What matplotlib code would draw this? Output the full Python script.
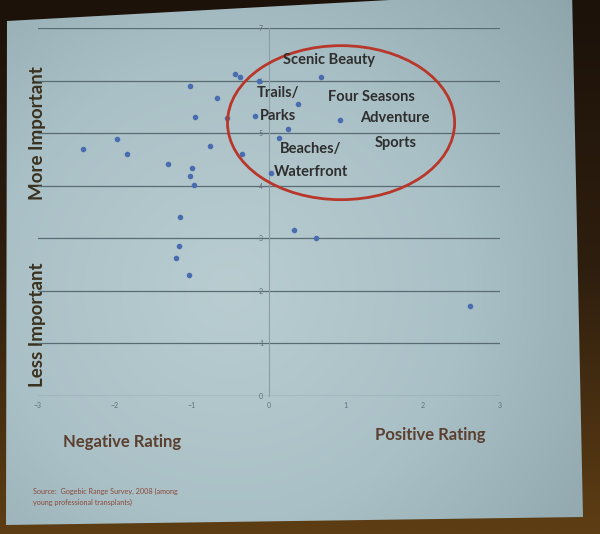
import numpy as np
import matplotlib
matplotlib.use('Agg')
import matplotlib.pyplot as plt
import matplotlib.patches as patches
from matplotlib.colors import LinearSegmentedColormap

plt.rcParams['font.family'] = ['Lato', 'DejaVu Sans']

# Dados: avaliação (x) vs importância (y)
rating = [-2.41, -1.97, -1.84, -1.31, -1.02, -0.96, -1.00, -1.02, -0.97, -0.76,
          -0.67, -0.54, -0.44, -0.37, -0.12, -0.18, -0.35, 0.03, 0.14, 0.25,
          0.38, 0.68, 0.93, -1.15, 0.33, 0.61, -1.17, -1.21, -1.03, 2.62]
importance = [4.69, 4.89, 4.60, 4.42, 5.89, 5.30, 4.33, 4.18, 4.01, 4.75,
              5.67, 5.28, 6.12, 6.06, 5.99, 5.32, 4.61, 4.24, 4.90, 5.07,
              5.55, 6.06, 5.26, 3.40, 3.15, 3.01, 2.86, 2.63, 2.31, 1.72]
x_ticks = [-3, -2, -1, 0, 1, 2, 3]
y_ticks = [0, 1, 2, 3, 4, 5, 6, 7]

# Rótulos dentro da elipse (texto, x, y)
rotulos = [('Scenic Beauty', 0.78, 6.40),
           ('Trails/', 0.12, 5.77),
           ('Parks', 0.12, 5.32),
           ('Four Seasons', 1.34, 5.69),
           ('Adventure', 1.64, 5.28),
           ('Sports', 1.65, 4.81),
           ('Beaches/', 0.54, 4.70),
           ('Waterfront', 0.55, 4.27)]

fig = plt.figure(figsize=(6.0, 5.34), dpi=100)

# Fundo: moldura escura + slide projetado
bg = fig.add_axes([0, 0, 1, 1], zorder=0)
bg.set_xlim(0, 600)
bg.set_ylim(534, 0)
bg.axis('off')

cmap_moldura = LinearSegmentedColormap.from_list('m', ['#1c120a', '#2e1e0e', '#5e3e14'])
bg.imshow(np.linspace(0, 1, 256)[:, None], extent=(0, 600, 534, 0),
          aspect='auto', cmap=cmap_moldura, zorder=0)

slide = patches.Polygon([(7, 21), (572, -10), (583, 517), (6, 525)],
                        closed=True, facecolor='none', edgecolor='none')
bg.add_patch(slide)
gx, gy = np.meshgrid(np.linspace(0, 600, 300), np.linspace(0, 534, 300))
dist = np.sqrt(((gx - 230) / 430) ** 2 + ((gy - 290) / 420) ** 2)
cmap_slide = LinearSegmentedColormap.from_list('s', ['#b9cdd1', '#a9c0c6', '#8ca3aa'])
im = bg.imshow(dist, extent=(0, 600, 534, 0), aspect='auto', cmap=cmap_slide,
               vmin=0.0, vmax=1.1, zorder=1)
im.set_clip_path(slide)

# Títulos dos eixos e fonte
bg.text(37, 133, 'More Important', rotation=90, ha='center', va='center',
        fontsize=13.5, fontweight='bold', color='#3b3220', zorder=3)
bg.text(37, 325, 'Less Important', rotation=90, ha='center', va='center',
        fontsize=13.5, fontweight='bold', color='#3b3220', zorder=3)
bg.text(122, 442, 'Negative Rating', ha='center', va='center',
        fontsize=12, fontweight='bold', color='#5b4030', zorder=3)
bg.text(430, 435, 'Positive Rating', ha='center', va='center',
        fontsize=12, fontweight='bold', color='#5b4030', zorder=3)
bg.text(33, 497, 'Source:  Gogebic Range Survey, 2008 (among\nyoung professional transplants)',
        ha='left', va='center', fontsize=5.2, color='#8b4a3c',
        linespacing=1.6, zorder=3)

# Gráfico de dispersão
ax = fig.add_axes([0.0628, 0.2584, 0.77, 0.6891], zorder=1)
ax.set_facecolor('none')
ax.set_xlim(-3, 3)
ax.set_ylim(0, 7)
ax.set_xticks(x_ticks)
ax.set_yticks(y_ticks)
ax.yaxis.grid(True, color='#5a6c73', linewidth=0.9)
ax.set_axisbelow(True)
for lado in ['top', 'right', 'bottom']:
    ax.spines[lado].set_visible(False)
ax.spines['left'].set_position(('data', 0))
ax.spines['left'].set_color('#8a9da4')
ax.spines['left'].set_linewidth(0.8)
ax.tick_params(length=0, labelsize=5, labelcolor='#5f7078', pad=4)

ax.scatter(rating, importance, s=9, color='#4a6db0', zorder=3)

elipse = patches.Ellipse((0.94, 5.20), 2.95, 2.93, fill=False,
                         edgecolor='#b8372a', linewidth=2, zorder=4)
ax.add_patch(elipse)

for texto, x, y in rotulos:
    ax.text(x, y, texto, ha='center', va='center', fontsize=10.5,
            fontweight='bold', color='#2e2e2e', zorder=5)

fig.savefig('out.png', dpi=100)
